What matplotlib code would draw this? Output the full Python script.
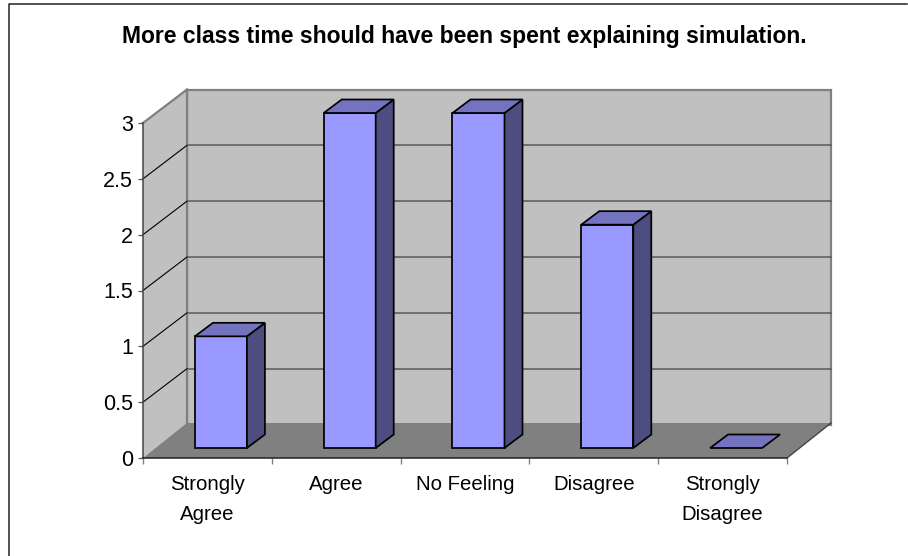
import matplotlib
matplotlib.use("Agg")
import matplotlib.pyplot as plt
from matplotlib.lines import Line2D
from matplotlib.patches import Polygon

categories = ["Strongly\nAgree", "Agree", "No Feeling", "Disagree", "Strongly\nDisagree"]
values = [1, 3, 3, 2, 0]
y_ticks = [0, 0.5, 1, 1.5, 2, 2.5, 3]
y_tick_labels = ["0", "0.5", "1", "1.5", "2", "2.5", "3"]
title = "More class time should have been spent explaining simulation."

W, H = 908, 556
plt.rcParams["font.family"] = ["Liberation Sans", "DejaVu Sans"]

fig = plt.figure(figsize=(W / 100, H / 100), dpi=100, facecolor="white")

# Front plane of the oblique box, in figure pixels
left, right, top, bottom = 143, 787, 123, 458
ax = fig.add_axes([left / W, 1 - bottom / H, (right - left) / W, (bottom - top) / H])
ax.set_xlim(0, len(categories))
ax.set_ylim(0, 3)
ax.patch.set_visible(False)

px_x = len(categories) / (right - left)
px_y = 3 / (bottom - top)


def shift(x, y, dx, dy):
    """Move a data point by a screen offset given in pixels (dy upward)."""
    return (x + dx * px_x, y + dy * px_y)


def face(points, fc, ec="none", lw=0.0, z=1):
    ax.add_patch(Polygon(points, closed=True, facecolor=fc, edgecolor=ec,
                         linewidth=lw, clip_on=False, zorder=z, joinstyle="miter"))


depth_x, depth_y = 44, 33.5
floor_depth_y = 35
n = len(categories)
wall_grey = "#c0c0c0"
edge_grey = "#808080"
floor_grey = "#808080"

# Back wall, side wall and floor
face([shift(0, 0, depth_x, depth_y), shift(n, 0, depth_x, depth_y),
      shift(n, 3, depth_x, depth_y), shift(0, 3, depth_x, depth_y)], wall_grey, edge_grey, 1.6, z=1)
face([(0, 0), shift(0, 0, depth_x, depth_y), shift(0, 3, depth_x, depth_y), (0, 3)], wall_grey, z=2)
ax.plot(*zip(shift(0, 3, depth_x, depth_y), (0, 3)), color=edge_grey, lw=1.6, clip_on=False, zorder=3)
ax.plot(*zip(shift(0, 0, depth_x, depth_y), shift(0, 3, depth_x, depth_y)),
        color=edge_grey, lw=1.6, clip_on=False, zorder=3)
face([(0, 0), (n, 0), shift(n, 0, depth_x, floor_depth_y), shift(0, 0, depth_x, floor_depth_y)],
     floor_grey, z=3)
ax.plot(*zip((n, 0), shift(n, 0, depth_x, floor_depth_y)), color="#444444", lw=1.0, clip_on=False, zorder=3)

# Gridlines run along the side wall and across the back wall
for v in y_ticks[1:-1]:
    ax.plot(*zip((0, v), shift(0, v, depth_x, depth_y)), color="black", lw=0.8, clip_on=False, zorder=3)
    ax.plot(*zip(shift(0, v, depth_x, depth_y), shift(n, v, depth_x, depth_y)),
            color="#5a5a5a", lw=1.1, clip_on=False, zorder=2)

# Bars: front, side and top faces
bar_w = 52 * px_x
near_x, near_y, far_x, far_y = 13.5, 10, 31.5, 23.5
front_c, side_c, top_c = "#9999ff", "#4d4d80", "#7373bf"
bar_lw = 1.25
for i, v in enumerate(values):
    z = 5 + i
    x0 = i + 0.5 - bar_w / 2
    x1 = x0 + bar_w
    a, b = shift(x0, 0, near_x, near_y), shift(x1, 0, near_x, near_y)
    c, d = shift(x1, v, near_x, near_y), shift(x0, v, near_x, near_y)
    e, f = shift(x1, v, far_x, far_y), shift(x0, v, far_x, far_y)
    g = shift(x1, 0, far_x, far_y)
    if v > 0:
        face([a, b, c, d], front_c, "black", bar_lw, z)
        face([b, g, e, c], side_c, "black", bar_lw, z)
    face([d, c, e, f], top_c, "black", bar_lw, z)

# Real axes: value ticks on the left, category boundaries on the bottom
for name in ("top", "right"):
    ax.spines[name].set_visible(False)
ax.spines["left"].set_color("#444444")
ax.spines["left"].set_linewidth(1.1)
ax.spines["bottom"].set_color("#222222")
ax.spines["bottom"].set_linewidth(1.1)
for name in ("left", "bottom"):
    ax.spines[name].set_zorder(4)

ax.set_yticks(y_ticks)
ax.set_yticklabels(y_tick_labels, fontsize=15.5, color="black", va="center_baseline")
ax.tick_params(axis="y", length=3.6, width=0.9, color="#555555", pad=3.6)
ax.set_xticks(range(n + 1))
ax.set_xticklabels([""] * (n + 1))
ax.tick_params(axis="x", which="major", length=4.3, width=1.0, color="#808080")
ax.set_xticks([i + 0.5 for i in range(n)], minor=True)
ax.set_xticklabels(categories, minor=True, fontsize=14.7, color="black", linespacing=1.7)
ax.tick_params(axis="x", which="minor", length=0, pad=12.5)

# Chart title and the frame's visible top and left rules
fig.text(464.5 / W, 1 - 36 / H, title, ha="center", va="center", fontsize=16.5,
         fontweight="bold", color="black")
frame_x, frame_y = 9 / W, 1 - 4 / H
fig.add_artist(Line2D([frame_x, frame_x, 907 / W], [0, frame_y, frame_y],
                      transform=fig.transFigure, color="#222222", linewidth=1.1))

fig.savefig("out.png", dpi=100, facecolor="white")
